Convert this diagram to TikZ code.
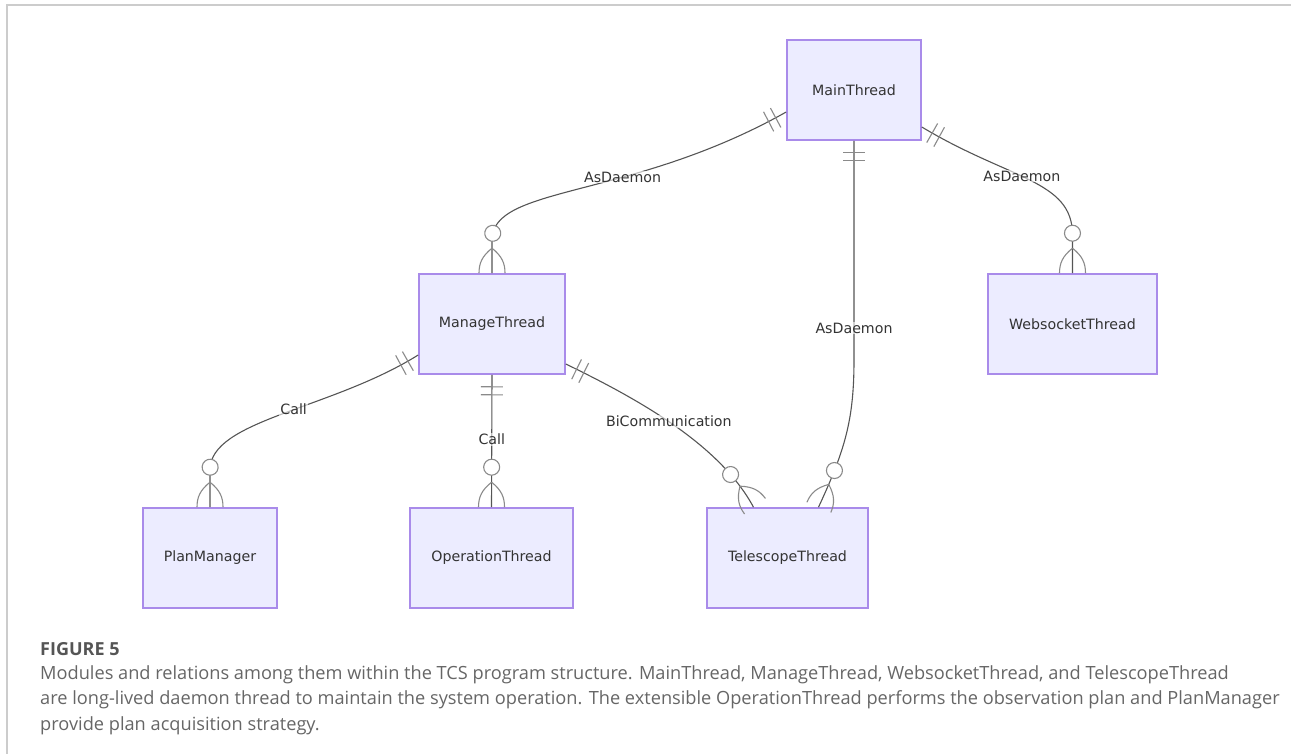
\documentclass[tikz,border=0pt]{standalone}
\usepackage{fontspec}
\setmainfont{DejaVu Sans}
\newfontfamily\capfont{Open Sans}
\usetikzlibrary{decorations.markings}

\definecolor{boxfill}{HTML}{ECECFF}
\definecolor{boxline}{HTML}{A98BEA}
\definecolor{linegray}{HTML}{555555}
\definecolor{markgray}{HTML}{8A8A8A}
\definecolor{txtgray}{HTML}{333333}
\definecolor{capgray}{HTML}{666666}
\definecolor{headgray}{HTML}{555555}
\definecolor{framegray}{HTML}{CCCCCC}

\tikzset{
  entity/.style={draw=boxline, fill=boxfill, line width=1.6pt, minimum height=100pt,
    text=txtgray, font=\fontsize{14.2}{16}\selectfont, inner sep=0pt},
  elabel/.style={fill=white, fill opacity=0.6, text opacity=1, text=txtgray,
    font=\fontsize{14.2}{16}\selectfont, inner sep=1pt},
  erline/.style={draw=linegray, line width=1.1pt, postaction={decorate},
    decoration={markings,
      mark=at position 12pt with {\draw[markgray, line width=1.1pt] (0pt,-11pt) -- (0pt,11pt);},
      mark=at position 20pt with {\draw[markgray, line width=1.1pt] (0pt,-11pt) -- (0pt,11pt);},
      mark=at position -40pt with {\draw[markgray, line width=1.1pt, fill=white] (0pt,0pt) circle (8pt);},
      mark=at position -25pt with {\draw[markgray, line width=1.1pt]
          (0pt,0pt) .. controls (8pt,10pt) and (15pt,13pt) .. (25pt,13pt)
          (0pt,0pt) .. controls (8pt,-10pt) and (15pt,-13pt) .. (25pt,-13pt);}
    }},
  captext/.style={anchor=base west, inner sep=0pt, text=capgray,
    font=\capfont\fontsize{18.2}{20}\selectfont}
}

\begin{document}
\begin{tikzpicture}[x=1pt, y=-1pt]
\useasboundingbox (0,0) rectangle (1291,754);

% page frame (top and left rules)
\draw[framegray, line width=2pt] (7,754) -- (7,5.5) -- (1291,5.5);

% entities
\node[entity, minimum width=134pt] (main) at (854,90)    {MainThread};
\node[entity, minimum width=146pt] (mng)  at (492,324)   {ManageThread};
\node[entity, minimum width=169pt] (web)  at (1072.5,324){WebsocketThread};
\node[entity, minimum width=134pt] (plan) at (210,558)   {PlanManager};
\node[entity, minimum width=163pt] (op)   at (491.5,558) {OperationThread};
\node[entity, minimum width=161pt] (tel)  at (787.5,558) {TelescopeThread};

% relations: "exactly one" end first, "zero or more" end last
\draw[erline] ([yshift=-22pt]main.west) .. controls (630,200) and (492,185) .. (492,240)
  node[elabel, pos=0.38] {AsDaemon} -- (mng.north);
\draw[erline] ([yshift=-37pt]main.east) .. controls (1010,180) and (1072.5,180) .. (1072.5,235)
  node[elabel, pos=0.45] {AsDaemon} -- (web.north);
\draw[erline] (main.south) -- node[elabel, pos=0.855] {AsDaemon} (854,360)
  .. controls (854,420) and (845,450) .. ([xshift=31pt]tel.north);
\draw[erline] ([yshift=-31pt]mng.west) .. controls (330,410) and (210,420) .. (210,470)
  node[elabel, pos=0.45] {Call} -- (plan.north);
\draw[erline] (mng.south) -- node[elabel, pos=0.49] {Call} (op.north);
\draw[erline] ([yshift=-40pt]mng.east) .. controls (640,400) and (720,445) .. ([xshift=-34pt]tel.north)
  node[elabel, pos=0.47] {BiCommunication};

% caption
\node[captext, font=\capfont\bfseries\fontsize{18}{20}\selectfont, text=headgray]
  (cap0) at (40,655) {FIGURE 5};
\node[captext] (cap1) at (40,679) {Modules and relations among them within the TCS program structure. MainThread, ManageThread, WebsocketThread, and TelescopeThread};
\node[captext] (cap2) at (40,704.5) {are long-lived daemon thread to maintain the system operation. The extensible OperationThread performs the observation plan and PlanManager};
\node[captext] (cap3) at (40,730) {provide plan acquisition strategy.};
\end{tikzpicture}
\end{document}
